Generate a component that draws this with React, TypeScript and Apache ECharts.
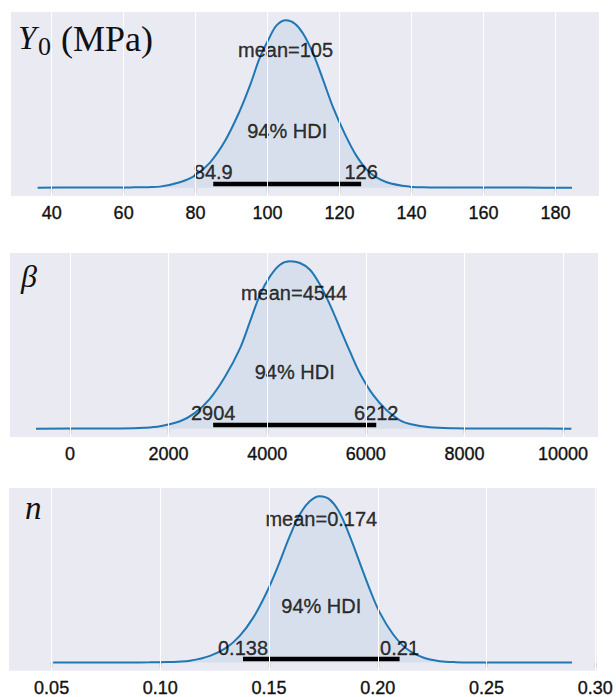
import React, { useEffect, useRef } from "react";
import * as echarts from "echarts";

// ---- Data ----
const y0Ticks = [40, 60, 80, 100, 120, 140, 160, 180];
const y0X = [36.1, 45, 55, 62, 67, 70.1, 75.6, 79.8, 84.0, 88.2, 92.3, 95.1, 97.9, 100.6, 102.5, 105.1, 107.6, 109.9, 112.7, 115.5, 118.2, 121.5, 124.7, 128.4, 133.1, 139.5, 145, 152, 162, 172, 184.6];
const y0Dens = [0, 0.0002, 0.0006, 0.0015, 0.003, 0.006, 0.032, 0.072, 0.15, 0.28, 0.46, 0.61, 0.78, 0.9, 0.97, 1.0, 0.98, 0.92, 0.8, 0.64, 0.48, 0.32, 0.19, 0.09, 0.032, 0.006, 0.0015, 0.0005, 0.0002, 0.0001, 0];
const y0Hdi = [84.9, 126];
const y0Mean = 105;
const y0HdiLabels = ["84.9", "126"];
const y0MeanLabel = "mean=105";

const betaTicks = [0, 2000, 4000, 6000, 8000, 10000];
const betaX = [-690, 500, 1000, 1500, 1826, 2231, 2535, 2840, 3144, 3448, 3651, 3854, 4057, 4260, 4462, 4665, 4868, 5071, 5274, 5477, 5680, 5882, 6152, 6423, 6694, 6897, 7300, 7800, 8500, 9300, 10170];
const betaDens = [0, 0.0003, 0.001, 0.005, 0.014, 0.044, 0.094, 0.18, 0.31, 0.48, 0.64, 0.8, 0.91, 0.98, 1.0, 0.99, 0.95, 0.86, 0.74, 0.6, 0.46, 0.33, 0.2, 0.11, 0.05, 0.028, 0.008, 0.002, 0.0006, 0.0002, 0];
const betaHdi = [2904, 6212];
const betaMean = 4544;
const betaHdiLabels = ["2904", "6212"];
const betaMeanLabel = "mean=4544";

const nTicks = [0.05, 0.1, 0.15, 0.2, 0.25, 0.3];
const nX = [0.0507, 0.07, 0.085, 0.095, 0.1035, 0.108, 0.1136, 0.1228, 0.1304, 0.1365, 0.1427, 0.1488, 0.1541, 0.1595, 0.1641, 0.1687, 0.1733, 0.1779, 0.1825, 0.1871, 0.1917, 0.1963, 0.2009, 0.207, 0.2131, 0.2208, 0.2285, 0.236, 0.245, 0.26, 0.2893];
const nDens = [0, 0.0001, 0.0004, 0.001, 0.003, 0.005, 0.01, 0.04, 0.09, 0.16, 0.27, 0.42, 0.58, 0.76, 0.89, 0.97, 1.0, 0.98, 0.9, 0.76, 0.6, 0.44, 0.3, 0.17, 0.084, 0.03, 0.008, 0.002, 0.0006, 0.0001, 0];
const nHdi = [0.138, 0.21];
const nMean = 0.174;
const nHdiLabels = ["0.138", "0.21"];
const nMeanLabel = "mean=0.174";

const hdiText = "94% HDI";

// ---- Layout / style ----
const BG = "#EAEAF2";
const LINE = "#1f77b4";
const TXT = "#000000";
const SANS = "Liberation Sans, Arial, sans-serif";
const SERIF = "Liberation Serif, Times New Roman, serif";

interface Panel {
  ticks: number[];
  xs: number[];
  ys: number[];
  hdi: number[];
  mean: number;
  hdiLabels: string[];
  meanLabel: string;
  min: number;
  max: number;
  grid: { left: number; top: number; width: number; height: number };
  fmt: (v: number) => string;
  meanY: number;
  hdiTextY: number;
  hdiNumY: number;
}

const panels: Panel[] = [
  {
    ticks: y0Ticks, xs: y0X, ys: y0Dens, hdi: y0Hdi, mean: y0Mean,
    hdiLabels: y0HdiLabels, meanLabel: y0MeanLabel,
    min: 28.7, max: 192.1,
    grid: { left: 11, top: 12, width: 588, height: 184 },
    fmt: (v) => String(v),
    meanY: 0.823, hdiTextY: 0.341, hdiNumY: 0.093,
  },
  {
    ticks: betaTicks, xs: betaX, ys: betaDens, hdi: betaHdi, mean: betaMean,
    hdiLabels: betaHdiLabels, meanLabel: betaMeanLabel,
    min: -1217, max: 10710,
    grid: { left: 10, top: 253, width: 588, height: 184 },
    fmt: (v) => String(v),
    meanY: 0.809, hdiTextY: 0.34, hdiNumY: 0.094,
  },
  {
    ticks: nTicks, xs: nX, ys: nDens, hdi: nHdi, mean: nMean,
    hdiLabels: nHdiLabels, meanLabel: nMeanLabel,
    min: 0.0304, max: 0.3007,
    grid: { left: 9, top: 488, width: 588, height: 184 },
    fmt: (v) => v.toFixed(2),
    meanY: 0.864, hdiTextY: 0.338, hdiNumY: 0.09,
  },
];

function buildOption() {
  const grids: any[] = [];
  const xAxes: any[] = [];
  const yAxes: any[] = [];
  const series: any[] = [];

  panels.forEach((p, i) => {
    grids.push({
      ...p.grid,
      show: true,
      backgroundColor: BG,
      borderWidth: 0,
      containLabel: false,
    });
    xAxes.push({
      type: "value",
      gridIndex: i,
      min: p.min,
      max: p.max,
      axisLine: { show: false },
      axisTick: {
        show: true,
        length: 5,
        customValues: p.ticks,
        lineStyle: { color: "#333", width: 1.2 },
      },
      axisLabel: {
        show: true,
        customValues: p.ticks,
        formatter: (v: number) => p.fmt(v),
        fontSize: 18,
        fontFamily: SANS,
        color: "#111",
        textBorderColor: "#111",
        textBorderWidth: 0.35,
        margin: 8,
      },
      splitLine: { show: false },
    });
    yAxes.push({
      type: "value",
      gridIndex: i,
      min: -0.05,
      max: 1.05,
      show: false,
      splitLine: { show: false },
    });

    // grid lines
    series.push({
      type: "line",
      xAxisIndex: i,
      yAxisIndex: i,
      data: [],
      z: 1,
      markLine: {
        silent: true,
        symbol: ["none", "none"],
        label: { show: false },
        lineStyle: { color: "#ffffff", width: 1, type: "solid" },
        data: p.ticks.map((t) => ({ xAxis: t })),
      },
    });

    // KDE curve
    series.push({
      type: "line",
      xAxisIndex: i,
      yAxisIndex: i,
      data: p.xs.map((x, k) => [x, p.ys[k]]),
      smooth: 0.35,
      symbol: "none",
      z: 2,
      lineStyle: { color: LINE, width: 2 },
      areaStyle: { color: "rgba(31,119,180,0.13)", origin: 0 },
    });

    // HDI bar
    series.push({
      type: "line",
      xAxisIndex: i,
      yAxisIndex: i,
      data: [
        [p.hdi[0], 0.021],
        [p.hdi[1], 0.021],
      ],
      symbol: "none",
      z: 3,
      lineStyle: { color: "#000000", width: 4.5, cap: "butt" },
    });

    // labels
    const lab = (x: number, y: number, text: string) => ({
      value: [x, y],
      name: text,
    });
    series.push({
      type: "scatter",
      xAxisIndex: i,
      yAxisIndex: i,
      symbolSize: 1,
      z: 4,
      itemStyle: { color: "rgba(0,0,0,0)" },
      label: {
        show: true,
        position: "inside",
        formatter: "{b}",
        fontSize: 20,
        fontFamily: SANS,
        color: TXT,
        textBorderColor: TXT,
        textBorderWidth: 0.35,
        align: "center",
        verticalAlign: "middle",
      },
      data: [
        lab(p.mean, p.meanY, p.meanLabel),
        lab((p.hdi[0] + p.hdi[1]) / 2, p.hdiTextY, hdiText),
        lab(p.hdi[0], p.hdiNumY, p.hdiLabels[0]),
        lab(p.hdi[1], p.hdiNumY, p.hdiLabels[1]),
      ],
    });
  });

  const t = (x: number, y: number, text: string, font: string) => ({
    type: "text",
    x,
    y,
    z: 10,
    style: { text, font, fill: "#111", verticalAlign: "middle" },
  });

  const graphic = [
    t(18, 38, "Y", `italic 33px ${SERIF}`),
    t(38, 46, "0", `26px ${SERIF}`),
    t(61, 39, "(MPa)", `36px ${SERIF}`),
    t(21, 276, "β", `italic 32px ${SERIF}`),
    t(25, 508, "n", `italic 33px ${SERIF}`),
  ];

  return {
    animation: false,
    backgroundColor: "#ffffff",
    grid: grids,
    xAxis: xAxes,
    yAxis: yAxes,
    series,
    graphic,
  };
}

export default function App() {
  const ref = useRef<HTMLDivElement>(null);
  useEffect(() => {
    if (!ref.current) return;
    const chart = echarts.init(ref.current, null, { renderer: "svg" });
    chart.setOption(buildOption() as any);
    return () => chart.dispose();
  }, []);
  return (
    <div
      ref={ref}
      style={{
        position: "absolute",
        left: 0,
        top: 0,
        width: 616,
        height: 697,
        background: "#fff",
      }}
    />
  );
}
